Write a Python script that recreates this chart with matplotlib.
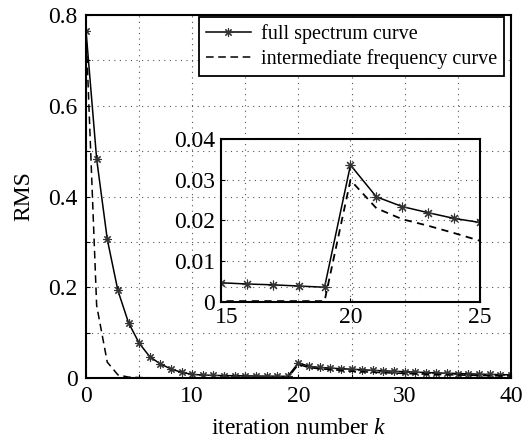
import matplotlib
matplotlib.use("Agg")
import matplotlib.pyplot as plt
import matplotlib.transforms as mtransforms
import numpy as np

plt.rcParams['font.family'] = ['Liberation Serif', 'DejaVu Serif']
plt.rcParams['mathtext.fontset'] = 'custom'
plt.rcParams['mathtext.rm'] = 'Liberation Serif'
plt.rcParams['mathtext.it'] = 'Liberation Serif:italic'

k = np.arange(0, 41)
full = [0.765, 0.483, 0.306, 0.193, 0.122, 0.077, 0.047, 0.031, 0.020, 0.0125,
        0.0080, 0.0066, 0.0058, 0.0053, 0.0050, 0.0047, 0.0044, 0.0042, 0.0039, 0.0036,
        0.0336, 0.0258, 0.0234, 0.0219, 0.0205, 0.0195, 0.0182, 0.0170, 0.0159, 0.0149,
        0.0139, 0.0130, 0.0121, 0.0113, 0.0106, 0.0099, 0.0092, 0.0086, 0.0080, 0.0075,
        0.0070]
inter = [0.765, 0.160, 0.035, 0.007, 0.002, 0.001, 0.0006, 0.0004, 0.0003, 0.0002,
         0.0002, 0.0002, 0.0002, 0.0002, 0.0002, 0.0002, 0.0002, 0.0002, 0.0002, 0.0002,
         0.0299, 0.0230, 0.0203, 0.0187, 0.0169, 0.0150, 0.0139, 0.0128, 0.0118, 0.0109,
         0.0100, 0.0092, 0.0085, 0.0078, 0.0072, 0.0066, 0.0061, 0.0056, 0.0051, 0.0047,
         0.0043]

star = (8, 2, 0)

fig = plt.figure(figsize=(5.31, 4.44), dpi=100)
ax = fig.add_axes([0.162, 0.1486, 0.8, 0.8174])

ax.plot(k, full, color='k', linewidth=1.1, marker=star, markersize=6,
        markeredgewidth=0.8, markeredgecolor='#333333', label='full spectrum curve')
ax.plot(k, inter, color='k', linewidth=1.1, linestyle=(0, (5, 3)),
        label='intermediate frequency curve')

ax.set_xlim(0, 40)
ax.set_ylim(0, 0.8)
ax.set_xticks(np.arange(0, 41, 5))
ax.set_xticklabels(['0', '', '10', '', '20', '', '30', '', '40'])
ax.set_yticks(np.arange(0, 0.81, 0.1))
ax.set_yticklabels(['0', '', '0.2', '', '0.4', '', '0.6', '', '0.8'])
ax.tick_params(direction='in', length=3, labelsize=17)
ax.tick_params(axis='x', pad=6)
ax.tick_params(axis='y', pad=6)
ax.grid(True, linestyle=(0, (1, 4)), color='#555555', linewidth=0.8)
for s in ax.spines.values():
    s.set_linewidth(1.5)
ax.set_xlabel('iteration number $k$', fontsize=17, labelpad=8)
ax.set_ylabel('RMS', fontsize=17, labelpad=10)

leg = ax.legend(loc='upper right', bbox_to_anchor=(0.949, 0.962),
                bbox_transform=fig.transFigure, borderaxespad=0, fancybox=False,
                edgecolor='k', framealpha=1, fontsize=14.5, handlelength=2.2,
                handletextpad=0.5, borderpad=0.35, labelspacing=0.25)
leg.get_frame().set_linewidth(1.3)

# inset
ins = fig.add_axes([0.416, 0.320, 0.488, 0.367])
ins.set_facecolor('none')
ins.plot(k, full, color='k', linewidth=1.1, marker=star, markersize=7,
         markeredgewidth=0.8, markeredgecolor='#333333')
ins.plot(k, inter, color='k', linewidth=1.3, linestyle=(0, (4, 3)))
ins.set_xlim(15, 25)
ins.set_ylim(0, 0.04)
ins.set_xticks([15, 20, 25])
ins.set_yticks([0, 0.01, 0.02, 0.03, 0.04])
ins.set_yticklabels(['0', '0.01', '0.02', '0.03', '0.04'])
ins.tick_params(direction='in', length=3, labelsize=17, pad=4)
ins.grid(True, linestyle=(0, (1, 4)), color='#555555', linewidth=0.8)
for s in ins.spines.values():
    s.set_linewidth(1.5)

# nudge the first inset x label right, as in the original
shift = mtransforms.ScaledTranslation(6 / 100, 0, fig.dpi_scale_trans)
lab15 = ins.get_xticklabels()[0]
lab15.set_transform(lab15.get_transform() + shift)

fig.savefig('out.png', dpi=100)
